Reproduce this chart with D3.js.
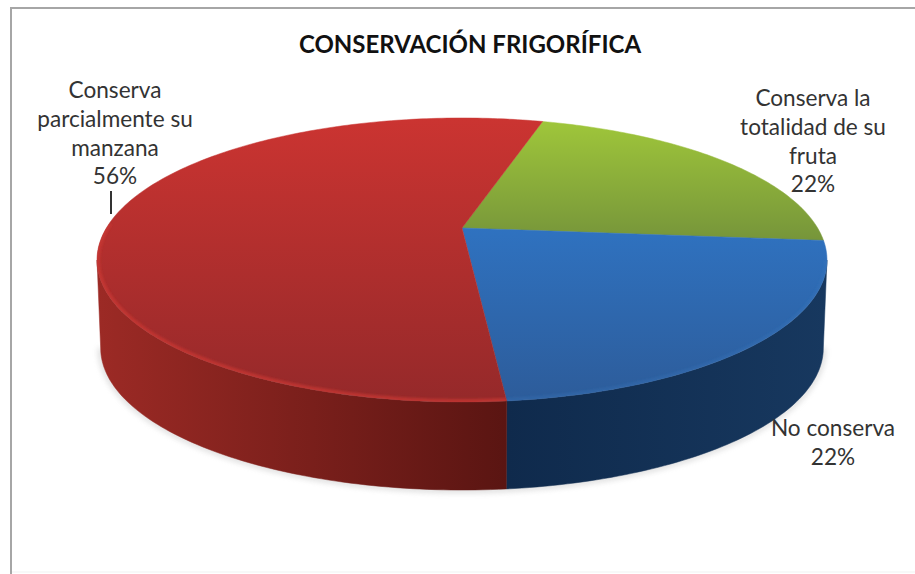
<!DOCTYPE html>
<html lang="es">
<head>
<meta charset="utf-8">
<title>Conservación frigorífica</title>
<script src="https://cdn.jsdelivr.net/npm/d3@7/dist/d3.min.js"></script>
<style>
  html, body { margin: 0; padding: 0; background: #fff; }
  svg { display: block; }
  text { font-family: Lato, "Open Sans", sans-serif; }
</style>
</head>
<body>
<svg id="chart" width="915" height="574"></svg>
<script>
// Chart data, in drawing order clockwise from the top of the disc
const chartTitle = "CONSERVACIÓN FRIGORÍFICA";
const categories = ["Conserva la totalidad de su fruta", "No conserva", "Conserva parcialmente su manzana"];
const shares = [22, 22, 56];
const percentLabels = ["22%", "22%", "56%"];

// Text lines of each slice label, in the same order as the categories
const labelLines = [
  ["Conserva la", "totalidad de su", "fruta", "22%"],
  ["No conserva", "22%"],
  ["Conserva", "parcialmente su", "manzana", "56%"]
];
const labelAnchors = [
  { x: 813, y: 106 },
  { x: 833, y: 436 },
  { x: 115, y: 98 }
];
const lineHeight = 28.8;

// Slice colours: top surface gradient stops and wall gradient stops
const topStops = [
  ["#9fc63a", "#76953a"],
  ["#2f72c0", "#2d5c9a"],
  ["#cb3431", "#95292a"]
];
const wallStops = [
  ["#76953a", "#76953a"],
  ["#0f2a4c", "#17385f"],
  ["#9c2a25", "#5a1512"]
];

// Perspective projection of the unit disc onto the page
const apex = { x: 462, y: 228 };
const persp = { a: 355.6, b: 134.8, k: 0.2254 };
const wallDepth = 88;
const wallTaper = 0.99;
const startDeg = 16;

const rad = d => d * Math.PI / 180;
const projectTop = theta => {
  const u = Math.sin(theta), v = -Math.cos(theta), w = 1 - persp.k * v;
  return [apex.x + persp.a * u / w, apex.y + persp.b * v / w];
};
const projectBottom = theta => {
  const [x, y] = projectTop(theta);
  return [apex.x + (x - apex.x) * wallTaper, y + wallDepth];
};

// The disc's silhouette touches its extreme x where sin(lat) equals k
const tangent = Math.asin(persp.k);
const wallFrom = Math.PI / 2 + tangent;
const wallTo = 3 * Math.PI / 2 - tangent;

const samples = (a0, a1) => {
  const n = Math.max(2, Math.ceil(Math.abs(a1 - a0) / rad(1)));
  return d3.range(n + 1).map(i => a0 + (a1 - a0) * i / n);
};
const line = d3.line();

const pie = d3.pie().sort(null)
  .startAngle(rad(startDeg))
  .endAngle(rad(startDeg) + 2 * Math.PI);
const arcs = pie(shares);

const svg = d3.select("#chart");
const defs = svg.append("defs");

defs.append("filter").attr("id", "soft")
  .attr("x", "-10%").attr("y", "-10%").attr("width", "120%").attr("height", "120%")
  .append("feGaussianBlur").attr("stdDeviation", 3);
defs.append("filter").attr("id", "rimBlur")
  .attr("x", "-10%").attr("y", "-10%").attr("width", "120%").attr("height", "120%")
  .append("feGaussianBlur").attr("stdDeviation", 1.2);

arcs.forEach((d, i) => {
  // Each top surface shades over its own height
  const g = defs.append("linearGradient").attr("id", `top${i}`)
    .attr("x1", 0).attr("x2", 0).attr("y1", 0).attr("y2", 1);
  g.append("stop").attr("offset", 0).attr("stop-color", topStops[i][0]);
  g.append("stop").attr("offset", 1).attr("stop-color", topStops[i][1]);

  const a0 = Math.max(d.startAngle, wallFrom), a1 = Math.min(d.endAngle, wallTo);
  if (a1 > a0) {
    const xs = [projectTop(a0)[0], projectTop(a1)[0]];
    const w = defs.append("linearGradient").attr("id", `wall${i}`)
      .attr("gradientUnits", "userSpaceOnUse")
      .attr("y1", 0).attr("y2", 0)
      .attr("x1", d3.min(xs)).attr("x2", d3.max(xs));
    w.append("stop").attr("offset", 0).attr("stop-color", wallStops[i][0]);
    w.append("stop").attr("offset", 1).attr("stop-color", wallStops[i][1]);
  }
});

// Frame of the chart area
const frameColor = "#a6a6a6";
svg.append("path")
  .attr("d", line([[11, 574], [11, 8], [915, 8]]))
  .attr("fill", "none").attr("stroke", frameColor).attr("stroke-width", 2);
svg.append("path")
  .attr("d", line([[12, 572], [915, 572]]))
  .attr("fill", "none").attr("stroke", "#f1f1f1").attr("stroke-width", 1);

// Soft shadow under the lower rim
const frontOutline = samples(wallFrom, wallTo).map(projectBottom);
svg.append("path")
  .attr("d", line(frontOutline))
  .attr("fill", "none").attr("stroke", "#8a8a8a").attr("stroke-width", 3)
  .attr("opacity", 0.55).attr("filter", "url(#soft)");

// Cylinder walls
arcs.forEach((d, i) => {
  const a0 = Math.max(d.startAngle, wallFrom), a1 = Math.min(d.endAngle, wallTo);
  if (a1 <= a0) return;
  const angles = samples(a0, a1);
  const outline = angles.map(projectTop).concat(angles.slice().reverse().map(projectBottom));
  svg.append("path")
    .attr("d", line(outline) + "Z")
    .attr("fill", `url(#wall${i})`)
    .attr("stroke", `url(#wall${i})`).attr("stroke-width", 0.5);
});

// Top surface slices
const sliceOutline = d => [[apex.x, apex.y]].concat(samples(d.startAngle, d.endAngle).map(projectTop));
arcs.forEach((d, i) => {
  svg.append("path")
    .attr("d", line(sliceOutline(d)) + "Z")
    .attr("fill", `url(#top${i})`)
    .attr("stroke", `url(#top${i})`).attr("stroke-width", 0.5);
});

// Lit bevel along the front edge of the disc
const rimColors = ["none", "#3a78bd", "#cb3833"];
const rimOpacity = [0, 0.3, 0.7];
arcs.forEach((d, i) => {
  const clipId = `clip${i}`;
  defs.append("clipPath").attr("id", clipId)
    .append("path").attr("d", line(sliceOutline(d)) + "Z");
  const a0 = Math.max(d.startAngle, wallFrom), a1 = Math.min(d.endAngle, wallTo + rad(15));
  if (a1 <= a0 || rimColors[i] === "none") return;
  svg.append("g").attr("clip-path", `url(#${clipId})`)
    .append("path")
    .attr("d", line(samples(a0, a1).map(projectTop)))
    .attr("fill", "none").attr("stroke", rimColors[i]).attr("stroke-opacity", rimOpacity[i])
    .attr("stroke-width", 6).attr("filter", "url(#rimBlur)");
});

// Title
svg.append("text")
  .attr("x", 470).attr("y", 53)
  .attr("text-anchor", "middle")
  .attr("font-size", 24).attr("font-weight", 700).attr("fill", "#111")
  .text(chartTitle);

// Slice labels
categories.forEach((name, i) => {
  const t = svg.append("text")
    .attr("text-anchor", "middle")
    .attr("font-size", 22.6).attr("fill", "#333")
    .attr("aria-label", `${name} ${percentLabels[i]}`);
  labelLines[i].forEach((row, r) => {
    t.append("tspan")
      .attr("x", labelAnchors[i].x)
      .attr("y", labelAnchors[i].y + r * lineHeight)
      .text(row);
  });
});

// Leader line from the largest slice to its label
svg.append("path")
  .attr("d", line([[111, 191], [111, 214]]))
  .attr("fill", "none").attr("stroke", "#333").attr("stroke-width", 2);
</script>
</body>
</html>
